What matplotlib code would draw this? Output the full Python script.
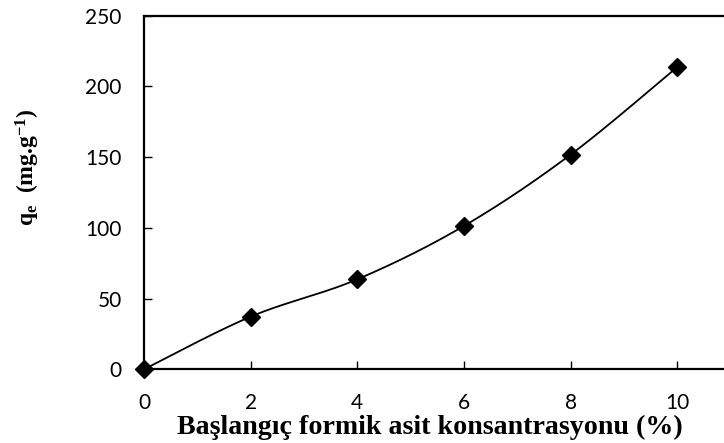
import numpy as np
import matplotlib
matplotlib.use("Agg")
import matplotlib.pyplot as plt

# Initial formic acid concentration (%) and adsorption capacity q_e (mg/g)
concentration = [0, 2, 4, 6, 8, 10]
qe = [0, 37.2, 63.6, 101.3, 151.7, 213.6]

x_ticks = [0, 2, 4, 6, 8, 10]
y_ticks = [0, 50, 100, 150, 200, 250]

plt.rcParams["mathtext.fontset"] = "custom"
plt.rcParams["mathtext.rm"] = "Liberation Serif:bold"
plt.rcParams["mathtext.bf"] = "Liberation Serif:bold"
plt.rcParams["mathtext.it"] = "Liberation Serif:bold"


def smooth_curve(xs, ys, n=40):
    """Catmull-Rom style cubic Bezier smoothing through every point."""
    xs = np.asarray(xs, float)
    ys = np.asarray(ys, float)
    px = np.concatenate([[xs[0]], xs, [xs[-1]]])
    py = np.concatenate([[ys[0]], ys, [ys[-1]]])
    out_x, out_y = [], []
    t = np.linspace(0, 1, n)
    for i in range(1, len(px) - 2):
        p0 = np.array([px[i], py[i]])
        p3 = np.array([px[i + 1], py[i + 1]])
        p1 = p0 + (np.array([px[i + 1], py[i + 1]]) - np.array([px[i - 1], py[i - 1]])) / 6
        p2 = p3 - (np.array([px[i + 2], py[i + 2]]) - np.array([px[i], py[i]])) / 6
        b = ((1 - t) ** 3)[:, None] * p0 + (3 * (1 - t) ** 2 * t)[:, None] * p1 \
            + (3 * (1 - t) * t ** 2)[:, None] * p2 + (t ** 3)[:, None] * p3
        out_x.extend(b[:, 0])
        out_y.extend(b[:, 1])
    return np.array(out_x), np.array(out_y)


fig = plt.figure(figsize=(7.24, 4.43), dpi=100)
ax = fig.add_axes([0.1989, 0.1664, 0.81, 0.7982])

sx, sy = smooth_curve(concentration, qe)
ax.plot(sx, sy, color="black", lw=1.3, zorder=2)
ax.plot(concentration, qe, linestyle="none", marker="D", markersize=9.5,
        color="black", zorder=3, clip_on=False)

ax.set_xlim(0, 11)
ax.set_ylim(0, 250)
ax.set_xticks(x_ticks)
ax.set_yticks(y_ticks)
ax.tick_params(direction="in", length=6, width=1, labelsize=15)
ax.tick_params(axis="x", pad=17)
ax.tick_params(axis="y", pad=16)
for lab in ax.get_xticklabels() + ax.get_yticklabels():
    lab.set_fontfamily("Lato")
for side in ["left", "bottom", "top", "right"]:
    ax.spines[side].set_linewidth(1.6)

ax.set_xlabel("Başlangıç formik asit konsantrasyonu (%)", fontfamily="Liberation Serif",
              fontweight="bold", fontsize=20.2, va="baseline")
ax.xaxis.set_label_coords((430 - 144) / 586.4, -(434 - 369.3) / 353.6)
ax.set_ylabel(r"q$_\mathbf{e}$  (mg.g$^\mathbf{-1}$)", fontfamily="Liberation Serif",
              fontweight="bold", fontsize=17, va="center")
ax.yaxis.set_label_coords((28 - 144) / 586.4, (369.3 - 167) / 353.6)

fig.savefig("out.png", dpi=100)
